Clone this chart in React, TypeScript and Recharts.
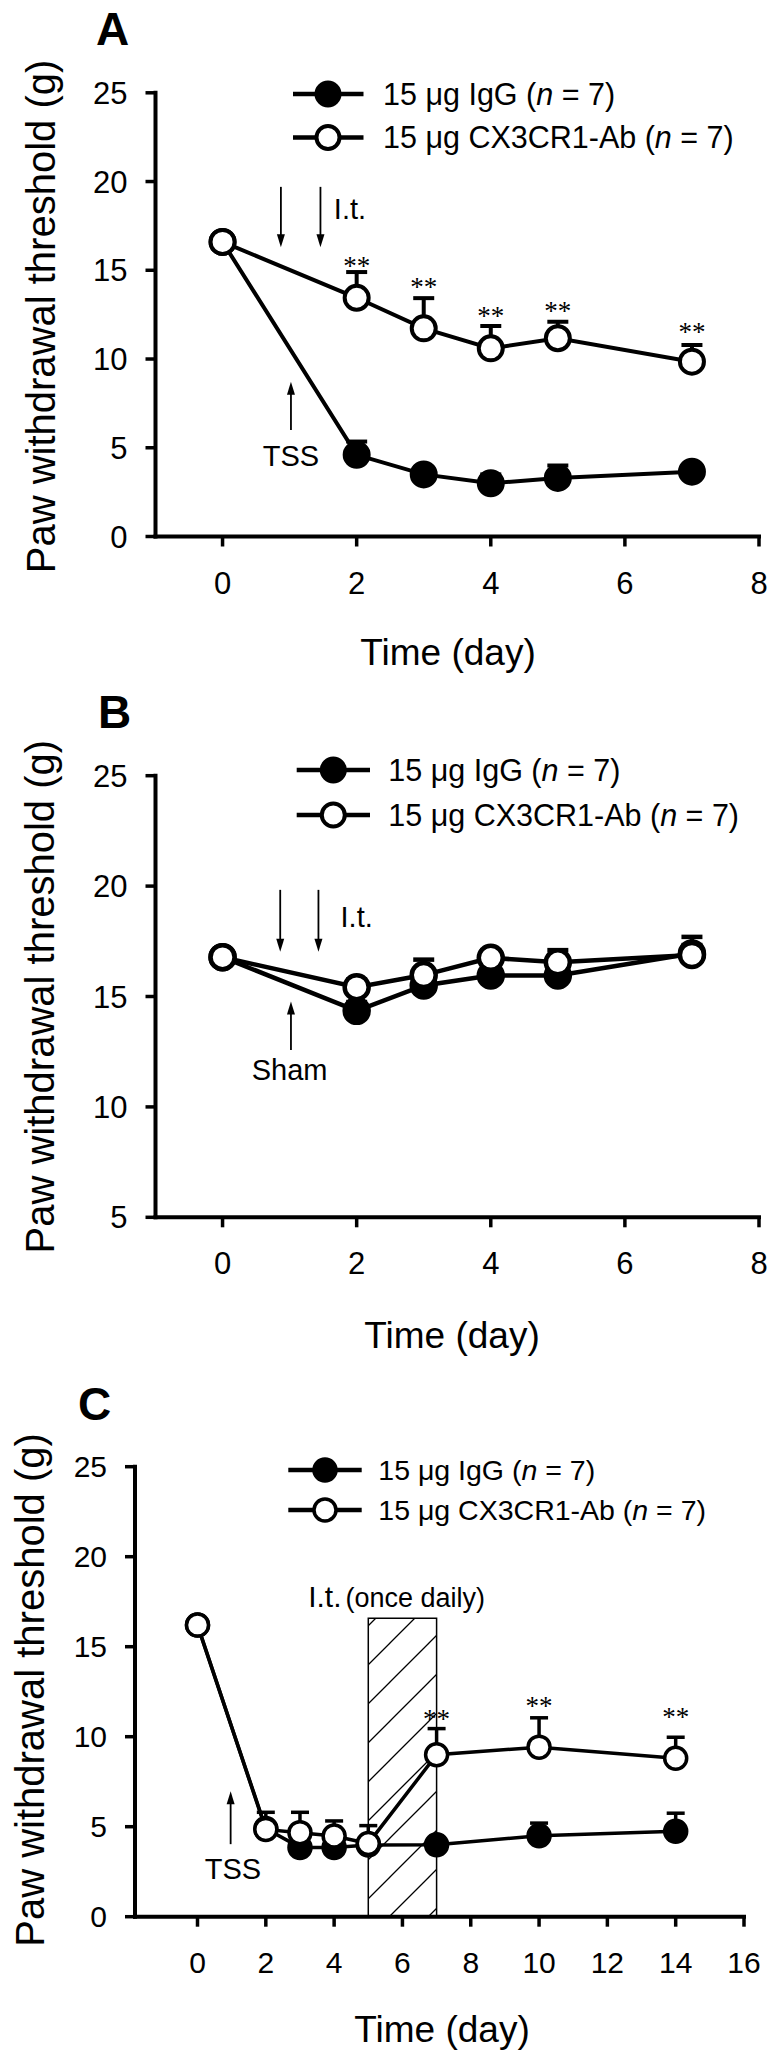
import React from 'react';
import {
  LineChart, Line, XAxis, YAxis, ErrorBar, ReferenceLine, ReferenceDot, ReferenceArea, Legend,
} from 'recharts';

const FONT = '"Liberation Sans", Arial, Helvetica, sans-serif';
const SERIF = '"Liberation Serif", "Times New Roman", serif';

// ---------- Panel A ----------
const daysA = [0, 2, 3, 4, 5, 7];
const iggA = [16.6, 4.6, 3.5, 3.0, 3.3, 3.65];
const iggErrA = [0, 0.75, 0.4, 0.5, 0.7, 0.35];
const abA = [16.6, 13.45, 11.73, 10.6, 11.17, 9.85];
const abErrA = [0, 1.45, 1.7, 1.26, 0.93, 0.94];
const starDaysA = [2, 3, 4, 5, 7];
const starLevelsA = [15.48, 14.26, 12.66, 12.95, 11.73];
const ticksXA = [0, 2, 4, 6, 8];
const ticksYA = [0, 5, 10, 15, 20, 25];
const itArrowDaysA = [0.87, 1.46];
const itArrowSpanA = [19.7, 16.3];
const injuryArrowA = [1.02, 6.0, 8.72];
const itTextA = [1.66, 17.87];
const injuryTextA = [1.02, 3.97];

// ---------- Panel B ----------
const daysB = [0, 2, 3, 4, 5, 7];
const iggB = [16.78, 14.35, 15.5, 15.95, 15.95, 16.95];
const iggErrB = [0, 0.4, 0.5, 0.4, 0.5, 0.75];
const abB = [16.78, 15.42, 15.97, 16.75, 16.55, 16.88];
const abErrB = [0, 0.35, 0.7, 0.35, 0.55, 0.45];
const ticksXB = [0, 2, 4, 6, 8];
const ticksYB = [5, 10, 15, 20, 25];
const itArrowDaysB = [0.86, 1.43];
const itArrowSpanB = [19.83, 17.03];
const injuryArrowB = [1.02, 12.58, 14.77];
const itTextB = [1.76, 18.16];
const injuryTextB = [1.0, 11.22];

// ---------- Panel C ----------
const daysC = [0, 2, 3, 4, 5, 7, 10, 14];
const iggC = [16.2, 4.9, 3.85, 3.85, 3.98, 4.0, 4.5, 4.75];
const iggErrC = [0, 0.3, 0.3, 0.3, 0.3, 0.3, 0.7, 1.0];
const abC = [16.2, 4.85, 4.67, 4.48, 4.07, 9.0, 9.42, 8.8];
const abErrC = [0, 0.95, 1.13, 0.84, 0.99, 1.45, 1.63, 1.17];
const starDaysC = [7, 10, 14];
const starLevelsC = [11.2, 11.94, 11.3];
const ticksXC = [0, 2, 4, 6, 8, 10, 12, 14, 16];
const ticksYC = [0, 5, 10, 15, 20, 25];
const treatmentDaysC = [5, 7];
const treatmentTopC = 16.58;
const injuryArrowC = [0.97, 4.03, 6.97];
const itTextC = [3.24, 17.22];
const injuryTextC = [1.04, 2.07];

const seriesNames = ['15 μg IgG', '15 μg CX3CR1-Ab'];

function buildRows(days: number[], igg: number[], iggErr: number[], ab: number[], abErr: number[]) {
  return days.map((d, i) => ({
    day: d,
    igg: igg[i],
    iggErr: [0, iggErr[i]],
    ab: ab[i],
    abErr: [0, abErr[i]],
  }));
}

const arrowShape = (sw: number) => (p: any) => {
  const { x1, y1, x2, y2 } = p;
  const dir = Math.sign(y2 - y1) || 1;
  const hl = 13;
  const hw = 8;
  return (
    <g>
      <line x1={x1} y1={y1} x2={x2} y2={y2 - dir * hl * 0.6} stroke="#000" strokeWidth={sw} />
      <polygon
        points={`${x2},${y2} ${x2 - hw / 2},${y2 - dir * hl} ${x2 + hw / 2},${y2 - dir * hl}`}
        fill="#000"
      />
    </g>
  );
};

const textShape = (txt: string, size: number, anchor: string) => (p: any) => (
  <text x={p.cx} y={p.cy} textAnchor={anchor} fontSize={size} fontFamily={FONT} fill="#000">
    {txt}
  </text>
);

const starShape = (size: number) => (p: any) => (
  <text x={p.cx} y={p.cy + size * 0.48} textAnchor="middle" fontSize={size} fontFamily={SERIF} fill="#000">
    **
  </text>
);

const itOnceShape = (p: any) => (
  <text x={p.cx} y={p.cy} textAnchor="start" fontFamily={FONT} fill="#000">
    <tspan fontSize={30}>I.t.</tspan>
    <tspan fontSize={27} dx={4}>(once daily)</tspan>
  </text>
);

type LegendCfg = { x1: number; x2: number; cx: number; tx: number; m1: number; m2: number; fs: number; r: number; sw: number };

const legendContent = (c: LegendCfg) => () => (
  <svg width={774} height={200} style={{ overflow: 'visible', display: 'block' }}>
    {[c.m1, c.m2].map((m, i) => (
      <g key={i}>
        <line x1={c.x1} y1={m} x2={c.x2} y2={m} stroke="#000" strokeWidth={4.5} />
        <circle cx={c.cx} cy={m} r={c.r} fill={i === 0 ? '#000' : '#fff'} stroke="#000" strokeWidth={c.sw} />
        <text x={c.tx} y={m + c.fs * 0.36} fontSize={c.fs} fontFamily={FONT} fill="#000">
          {seriesNames[i]} (<tspan fontStyle="italic">n</tspan> = 7)
        </text>
      </g>
    ))}
  </svg>
);

const yTitle = (bx: number, cy: number, lx: number, ly: number, letter: string) => () => (
  <g>
    <text
      transform={`translate(${bx},${cy}) rotate(-90)`}
      textAnchor="middle"
      fontSize={40}
      fontFamily={FONT}
      fill="#000"
    >
      Paw withdrawal threshold (g)
    </text>
    <text x={lx} y={ly} fontSize={46} fontWeight="bold" fontFamily={FONT} fill="#000">
      {letter}
    </text>
  </g>
);

const xTitle = (cx: number, by: number) => () => (
  <text x={cx} y={by} textAnchor="middle" fontSize={37} fontFamily={FONT} fill="#000">
    Time (day)
  </text>
);

type PanelProps = {
  top: number;
  height: number;
  margin: { top: number; right: number; bottom: number; left: number };
  rows: any[];
  xDomain: [number, number];
  yDomain: [number, number];
  xTicks: number[];
  yTicks: number[];
  tickFont: number;
  lineW: number;
  dotR: number;
  dotW: number;
  capHalf: number;
  legend: LegendCfg;
  yLab: [number, number, number, number, string];
  xLab: [number, number];
  children?: React.ReactNode;
  pre?: React.ReactNode;
};

function Panel(p: PanelProps) {
  const axisLine = { stroke: '#000', strokeWidth: 4, strokeLinecap: 'square' as const };
  const tickLine = { stroke: '#000', strokeWidth: 3.5 };
  const tick = { fill: '#000', fontSize: p.tickFont, fontFamily: FONT };
  return (
    <div style={{ position: 'absolute', left: 0, top: p.top }}>
      <LineChart width={774} height={p.height} data={p.rows} margin={p.margin}>
        <XAxis
          type="number"
          dataKey="day"
          domain={p.xDomain}
          ticks={p.xTicks}
          interval={0}
          allowDataOverflow
          height={60}
          tickSize={10}
          tickMargin={25}
          axisLine={axisLine}
          tickLine={tickLine}
          tick={tick}
          label={xTitle(p.xLab[0], p.xLab[1])}
        />
        <YAxis
          type="number"
          domain={p.yDomain}
          ticks={p.yTicks}
          interval={0}
          allowDataOverflow
          width={60}
          tickSize={10}
          tickMargin={18}
          axisLine={axisLine}
          tickLine={tickLine}
          tick={tick}
          label={yTitle(...p.yLab)}
        />
        {p.pre}
        <Line
          type="linear"
          dataKey="igg"
          stroke="#000"
          strokeWidth={p.lineW}
          dot={{ r: p.dotR, fill: '#000', stroke: '#000', strokeWidth: p.dotW }}
          activeDot={false}
          isAnimationActive={false}
        >
          <ErrorBar dataKey="iggErr" direction="y" width={p.capHalf} stroke="#000" strokeWidth={p.lineW} isAnimationActive={false} />
        </Line>
        <Line
          type="linear"
          dataKey="ab"
          stroke="#000"
          strokeWidth={p.lineW}
          dot={{ r: p.dotR, fill: '#fff', stroke: '#000', strokeWidth: p.dotW }}
          activeDot={false}
          isAnimationActive={false}
        >
          <ErrorBar dataKey="abErr" direction="y" width={p.capHalf} stroke="#000" strokeWidth={p.lineW} isAnimationActive={false} />
        </Line>
        {p.children}
        <Legend
          layout="vertical"
          verticalAlign="middle"
          align="center"
          content={legendContent(p.legend)}
          wrapperStyle={{ position: 'absolute', left: 0, top: 0, width: 774, height: 200, pointerEvents: 'none' }}
        />
      </LineChart>
    </div>
  );
}

export default function App() {
  const rowsA = buildRows(daysA, iggA, iggErrA, abA, abErrA);
  const rowsB = buildRows(daysB, iggB, iggErrB, abB, abErrB);
  const rowsC = buildRows(daysC, iggC, iggErrC, abC, abErrC);

  return (
    <div style={{ position: 'absolute', left: 0, top: 0, width: 774, height: 2061, background: '#fff' }}>
      <svg width={0} height={0} style={{ position: 'absolute' }}>
        <defs>
          <pattern id="hatchC" patternUnits="userSpaceOnUse" width={39} height={39}>
            <rect x={0} y={0} width={39} height={39} fill="#fff" />
            <path d="M0,39 L39,0 M-6,6 L6,-6 M33,45 L45,33" stroke="#000" strokeWidth={1.3} />
          </pattern>
        </defs>
      </svg>

      {/* Panel A */}
      <Panel
        top={0}
        height={680}
        margin={{ top: 92.8, right: 15, bottom: 83.5, left: 95.5 }}
        rows={rowsA}
        xDomain={[-1, 8]}
        yDomain={[0, 25]}
        xTicks={ticksXA}
        yTicks={ticksYA}
        tickFont={31}
        lineW={4}
        dotR={12}
        dotW={4}
        capHalf={10.5}
        legend={{ x1: 293, x2: 363.5, cx: 328, tx: 383, m1: 94, m2: 137.5, fs: 30.5, r: 11.5, sw: 4 }}
        yLab={[55, 316.5, 96, 45, 'A']}
        xLab={[448, 665]}
      >
        {itArrowDaysA.map((d, i) => (
          <ReferenceLine key={'ia' + i} segment={[{ x: d, y: itArrowSpanA[0] }, { x: d, y: itArrowSpanA[1] }]} shape={arrowShape(1.8)} />
        ))}
        <ReferenceLine segment={[{ x: injuryArrowA[0], y: injuryArrowA[1] }, { x: injuryArrowA[0], y: injuryArrowA[2] }]} shape={arrowShape(1.8)} />
        <ReferenceDot x={itTextA[0]} y={itTextA[1]} r={0} shape={textShape('I.t.', 29, 'start')} />
        <ReferenceDot x={injuryTextA[0]} y={injuryTextA[1]} r={0} shape={textShape('TSS', 29, 'middle')} />
        {starDaysA.map((d, i) => (
          <ReferenceDot key={'sa' + i} x={d} y={starLevelsA[i]} r={0} shape={starShape(27)} />
        ))}
      </Panel>

      {/* Panel B */}
      <Panel
        top={680}
        height={690}
        margin={{ top: 95.7, right: 15, bottom: 92.7, left: 95.5 }}
        rows={rowsB}
        xDomain={[-1, 8]}
        yDomain={[5, 25]}
        xTicks={ticksXB}
        yTicks={ticksYB}
        tickFont={31}
        lineW={4.5}
        dotR={12}
        dotW={4.5}
        capHalf={10.5}
        legend={{ x1: 296.7, x2: 370, cx: 333.3, tx: 388.3, m1: 90, m2: 135, fs: 30.5, r: 11.5, sw: 4 }}
        yLab={[54, 316.7, 98, 48, 'B']}
        xLab={[452, 668]}
      >
        {itArrowDaysB.map((d, i) => (
          <ReferenceLine key={'ib' + i} segment={[{ x: d, y: itArrowSpanB[0] }, { x: d, y: itArrowSpanB[1] }]} shape={arrowShape(1.8)} />
        ))}
        <ReferenceLine segment={[{ x: injuryArrowB[0], y: injuryArrowB[1] }, { x: injuryArrowB[0], y: injuryArrowB[2] }]} shape={arrowShape(1.8)} />
        <ReferenceDot x={itTextB[0]} y={itTextB[1]} r={0} shape={textShape('I.t.', 29, 'start')} />
        <ReferenceDot x={injuryTextB[0]} y={injuryTextB[1]} r={0} shape={textShape('Sham', 29, 'middle')} />
      </Panel>

      {/* Panel C */}
      <Panel
        top={1370}
        height={691}
        margin={{ top: 96.7, right: 30, bottom: 84.3, left: 75 }}
        rows={rowsC}
        xDomain={[-1.83, 16]}
        yDomain={[0, 25]}
        xTicks={ticksXC}
        yTicks={ticksYC}
        tickFont={30}
        lineW={3.5}
        dotR={11}
        dotW={3.5}
        capHalf={9}
        legend={{ x1: 288.3, x2: 361.7, cx: 325, tx: 378.3, m1: 100, m2: 140, fs: 28.5, r: 11, sw: 3.5 }}
        yLab={[43.5, 320, 78, 50, 'C']}
        xLab={[442, 671.7]}
        pre={
          <ReferenceArea
            x1={treatmentDaysC[0]}
            x2={treatmentDaysC[1]}
            y1={0}
            y2={treatmentTopC}
            fill="url(#hatchC)"
            fillOpacity={1}
            stroke="#000"
            strokeWidth={1.5}
            ifOverflow="visible"
          />
        }
      >
        <ReferenceLine segment={[{ x: injuryArrowC[0], y: injuryArrowC[1] }, { x: injuryArrowC[0], y: injuryArrowC[2] }]} shape={arrowShape(1.8)} />
        <ReferenceDot x={itTextC[0]} y={itTextC[1]} r={0} shape={itOnceShape} />
        <ReferenceDot x={injuryTextC[0]} y={injuryTextC[1]} r={0} shape={textShape('TSS', 29, 'middle')} />
        {starDaysC.map((d, i) => (
          <ReferenceDot key={'sc' + i} x={d} y={starLevelsC[i]} r={0} shape={starShape(27)} />
        ))}
      </Panel>
    </div>
  );
}
